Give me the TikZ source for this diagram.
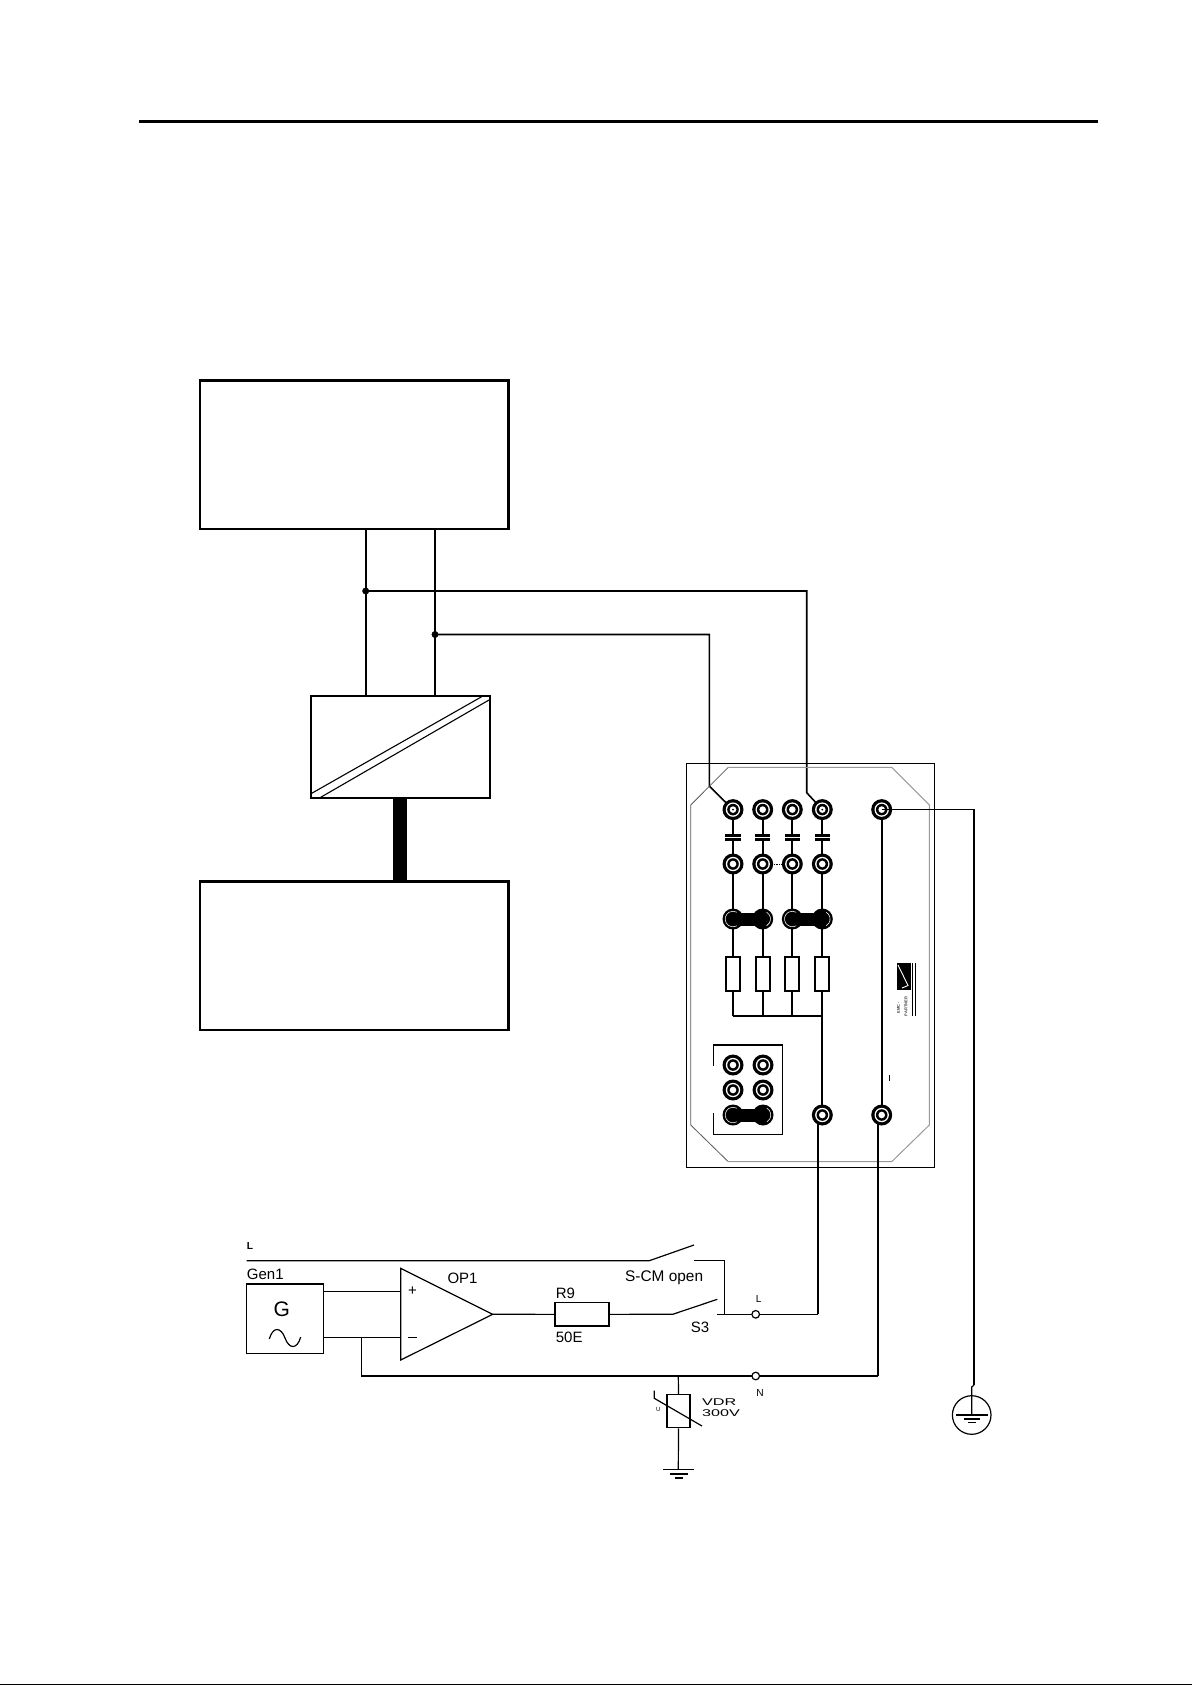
\documentclass[tikz,border=0pt]{standalone}
\usepackage{fontspec}
\setmainfont{Liberation Sans}
\usepackage{tikz}
\tikzset{
	blockbox/.style={draw,line width=2.2pt,inner sep=0pt},
	wire/.style={line width=1.6pt},
	thinwire/.style={line width=1.2pt},
	panelwire/.style={line width=2pt},
	lbl/.style={inner sep=0pt,anchor=west,font=\fontsize{15}{15}\selectfont},
	tinylbl/.style={inner sep=0pt,font=\fontsize{10.2}{10.2}\selectfont},
	logolbl/.style={inner sep=0pt,rotate=90,text=black!75,font=\fontsize{4}{4}\selectfont\bfseries}
}
\begin{document}
\begin{tikzpicture}[x=1pt,y=-1pt]
	\useasboundingbox (0,0) rectangle (1192,1685);
	\draw[line width=3pt] (139,121.3) -- (1097.5,121.3);
	\draw[line width=1.5pt] (0,1684.3) -- (1192,1684.3);

	\node[blockbox,minimum width=308.5pt,minimum height=148.5pt] (upperbox) at (354.25,454.75) {};
	\node[blockbox,minimum width=179pt,minimum height=102.3pt] (convbox) at (400.5,746.85) {};
	\node[blockbox,minimum width=308.5pt,minimum height=148.5pt] (lowerbox) at (354.25,955.75) {};
	\draw[line width=1.1pt] (311.7,793.3) -- (481.7,696.7);
	\draw[line width=1.1pt] (320.7,797.3) -- (489,700);
	\fill[black] (393,798) rectangle (407,881.5);

	\coordinate (upa) at (365.7,529);
	\coordinate (upb) at (435,529);
	\coordinate (cva) at (365.7,695.7);
	\coordinate (cvb) at (435,695.7);
	\coordinate (tapa) at (365.7,591);
	\coordinate (tapb) at (435,634.5);
	\coordinate (ja) at (733,809.6);
	\coordinate (jb) at (762.7,809.6);
	\coordinate (jc) at (792.3,809.6);
	\coordinate (jd) at (822.3,809.6);
	\coordinate (je) at (881.7,809.6);
	\coordinate (ka) at (733,864);
	\coordinate (kb) at (762.7,864);
	\coordinate (kc) at (792.3,864);
	\coordinate (kd) at (822.3,864);
	\coordinate (la) at (733,919);
	\coordinate (lb) at (762.7,919);
	\coordinate (lc) at (792.3,919);
	\coordinate (ld) at (822.3,919);
	\coordinate (ba) at (733,1015.7);
	\coordinate (bb) at (762.7,1015.7);
	\coordinate (bc) at (792.3,1015.7);
	\coordinate (bd) at (822.3,1015.7);
	\coordinate (ma) at (733,1065);
	\coordinate (mb) at (763,1065);
	\coordinate (na) at (733,1090);
	\coordinate (nb) at (763,1090);
	\coordinate (oa) at (733,1115);
	\coordinate (ob) at (763,1115);
	\coordinate (pd) at (822.3,1115);
	\coordinate (pe) at (881.7,1115);

	\draw[wire] (upa) -- (cva);
	\draw[wire] (upb) -- (cvb);
	\draw[wire] (tapa) -- (806.7,591) -- (806.7,792.7) -- (jd);
	\draw[wire] (tapb) -- (709.3,634.5) -- (709.3,786) -- (ja);
	\filldraw[fill=black] (tapa) circle (3.2);
	\filldraw[fill=black] (tapb) circle (3.2);

	\draw[line width=1pt] (686.7,763.3) rectangle (934.3,1167);
	\draw[black!65,line width=0.8pt] (728.3,767.3) -- (690.7,805) -- (690.7,1125) -- (728.3,1161.7);
	\draw[black!40,line width=1pt] (728.3,767.3) -- (891.7,767.3) -- (929.3,805) -- (929.3,1125) -- (891.7,1161.7) -- (728.3,1161.7);

	\draw[panelwire] (ba) -- (bd);
	\draw[panelwire] (jd) -- (pd);
	\draw[panelwire] (je) -- (pe);
	\foreach \j/\b in {ja/ba,jb/bb,jc/bc}
	{
		\draw[panelwire] (\j) -- (\b);
	}
	\foreach \x in {733,762.7,792.3,822.3}
	{
		\fill[black] (\x-7.6,833.8) rectangle (\x+7.6,840.8);
		\draw[white,line width=0.7pt] (\x-7.6,837.3) -- (\x+7.6,837.3);
		\filldraw[fill=white,draw=black,line width=2pt] (\x-7,956.7) rectangle (\x+7,990.7);
	}
	\foreach \a/\b in {la/lb,lc/ld,oa/ob}
	{
		\fill[black] (\a) circle (10.5);
		\fill[black] (\b) circle (10.5);
		\fill[black] ([yshift=-6.5pt]\a) rectangle ([yshift=6.5pt]\b);
		\draw[white,line width=0.55pt] ([shift={(60:7.8)}]\a) arc (60:300:7.8);
		\draw[white,line width=0.55pt] ([shift={(-60:7.8)}]\b) arc (-60:60:7.8);
	}
	\foreach \j in {ja,jb,jc,jd,je,ka,kb,kc,kd,ma,mb,na,nb,pd,pe}
	{
		\fill[black] (\j) circle (10.5);
		\fill[white] (\j) circle (7.2);
		\fill[black] (\j) circle (5.8);
		\fill[white] (\j) circle (3.3);
	}
	\fill[black] (ja) circle (1);
	\fill[black] (jd) circle (1);
	\draw[densely dotted,line width=0.8pt] (kb) ++(11,0) -- ++(7.6,0);

	\draw[line width=1.5pt] (713.3,1065.7) -- (713.3,1045) -- (782.3,1045) -- (782.3,1134.3) -- (713.3,1134.3) -- (713.3,1113.3);

	\fill[black] (897.3,963.3) rectangle (910.7,990);
	\draw[white,line width=0.9pt] (898,965) -- (908,985.5) -- (902,988);
	\draw[line width=0.7pt] (912.3,963.3) -- (912.3,1015.7);
	\draw[line width=0.7pt] (915,963.3) -- (915,1015.7);
	\node[logolbl] (logoa) at (898.5,1007.5) {EMC -};
	\node[logolbl] (logob) at (906,1006.5) {PARTNER};
	\draw[line width=0.9pt] (889.3,1075) -- (889.3,1080.5);

	\coordinate (earthtop) at (974,809.6);
	\coordinate (earthjog) at (974,1385);
	\coordinate (earth) at (971.7,1415);
	\draw[wire] (je) -- (earthtop) -- (earthjog);
	\draw[thinwire] (earthjog) -- (971.7,1387) -- (earth);
	\draw[thinwire] (earth) circle (19.3);
	\draw[thinwire] (956,1415) -- (988,1415);
	\draw[thinwire] (964,1419) -- (980,1419);
	\draw[thinwire] (968,1422.7) -- (976,1422.7);

	\node[tinylbl,font=\fontsize{10.2}{10.2}\selectfont\bfseries] (lineL) at (250,1246) {L};
	\node[lbl] (gen1) at (246.7,1274) {Gen1};
	\node[draw,thinwire,inner sep=0pt,minimum width=76.6pt,minimum height=69.3pt] (genbox) at (285,1318.65) {};
	\node[inner sep=0pt,font=\fontsize{21}{21}\selectfont] (genG) at (281.7,1309) {G};
	\draw[thinwire] (269.3,1339) .. controls (273,1326) and (281,1327) .. (285,1338) .. controls (289,1349) and (297,1350) .. (300.7,1337);

	\coordinate (opa) at (400.7,1268.3);
	\coordinate (opb) at (400.7,1360);
	\coordinate (opout) at (492.7,1314.3);
	\coordinate (opplus) at (400.7,1291.3);
	\coordinate (opminus) at (400.7,1337.3);
	\coordinate (genplus) at (323.3,1291.3);
	\coordinate (genminus) at (323.3,1337.3);
	\coordinate (fb) at (361.7,1337.3);
	\coordinate (fbc) at (361.7,1376);
	\draw[thinwire,line join=miter] (opa) -- (opb) -- (opout) -- cycle;
	\draw[thinwire] (genplus) -- (opplus);
	\draw[thinwire] (genminus) -- (opminus);
	\node[lbl] (plus) at (407.9,1291.3) {+};
	\draw[thinwire] (408,1337.3) -- (416.5,1337.3);
	\node[lbl] (op1) at (447.3,1278.3) {OP1};

	\node[draw,thinwire,inner sep=0pt,minimum width=54pt,minimum height=23.3pt] (r9) at (582,1314.35) {};
	\node[lbl] (r9lbl) at (555.7,1293.3) {R9};
	\node[lbl] (r9val) at (555.7,1337.3) {50E};
	\draw[thinwire] (opout) -- (r9.west);

	\coordinate (lstart) at (246.7,1260.7);
	\coordinate (lopen) at (649.3,1260.7);
	\coordinate (larm) at (694,1245);
	\coordinate (lend) at (694,1260.7);
	\coordinate (ldown) at (724.7,1260.7);
	\coordinate (sw) at (672.7,1314.3);
	\coordinate (swarm) at (717.3,1299.3);
	\coordinate (swend) at (717.3,1314.3);
	\coordinate (ldrop) at (724.7,1314.3);
	\coordinate (lterm) at (755.7,1314.3);
	\coordinate (lcorner) at (817.7,1314.3);
	\coordinate (ltop) at (817.7,1122);
	\coordinate (nterm) at (755.7,1376);
	\coordinate (ncorner) at (878.3,1376);
	\coordinate (ntop) at (878.3,1122);
	\coordinate (vdrtap) at (678.3,1376);
	\coordinate (gnd) at (678.3,1469.3);

	\draw[thinwire] (lstart) -- (lopen) -- (larm);
	\draw[thinwire] (lend) -- (ldown) -- (ldrop);
	\draw[thinwire] (r9.east) -- (sw) -- (swarm);
	\draw[thinwire] (swend) -- (lterm);
	\draw[thinwire] (lterm) -- (lcorner);
	\draw[panelwire] (lcorner) -- (ltop);
	\draw[thinwire] (fb) -- (fbc) -- (nterm);
	\draw[thinwire] (nterm) -- (ncorner);
	\draw[panelwire] (ncorner) -- (ntop);
	\filldraw[thinwire,fill=white] (lterm) circle (3.8);
	\filldraw[thinwire,fill=white] (nterm) circle (3.8);
	\node[lbl,font=\fontsize{15.4}{15.4}\selectfont] (scm) at (625,1277.7) {S-CM open};
	\node[lbl] (s3) at (690.7,1327.7) {S3};
	\node[tinylbl] (termL) at (758.7,1299.3) {L};
	\node[tinylbl] (termN) at (760,1392.7) {N};

	\node[draw,thinwire,inner sep=0pt,minimum width=23pt,minimum height=33pt] (vdr) at (678.5,1411.2) {};
	\draw[thinwire] (vdrtap) -- (vdr.north);
	\draw[thinwire] (vdr.south) -- (gnd);
	\draw[thinwire] (654.3,1390.7) -- (654.3,1398.3) -- (702,1426);
	\node[inner sep=0pt,font=\fontsize{6}{6}\selectfont] (vdru) at (658.3,1409.3) {U};
	\node[lbl,xscale=1.65,font=\fontsize{9.8}{9.8}\selectfont] (vdrname) at (701.7,1401.7) {VDR};
	\node[lbl,xscale=1.65,font=\fontsize{9.8}{9.8}\selectfont] (vdrvolt) at (701.7,1413.3) {300V};
	\draw[thinwire] (663.3,1469.3) -- (694,1469.3);
	\draw[thinwire] (670,1474) -- (688,1474);
	\draw[thinwire] (675,1478) -- (683,1478);
\end{tikzpicture}
\end{document}
